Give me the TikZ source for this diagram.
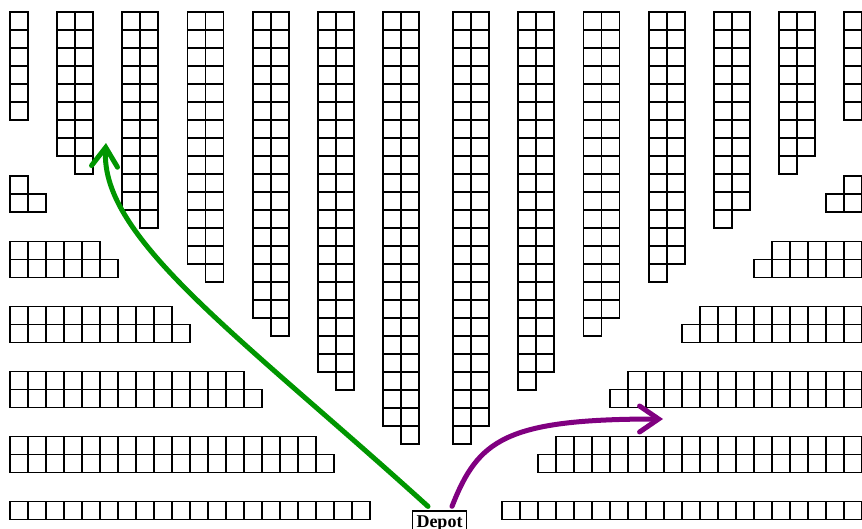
\documentclass[tikz,border=0pt]{standalone}
\usepackage{fontspec}
\setmainfont{Liberation Serif}
\usetikzlibrary{arrows.meta}
\definecolor{pathgreen}{RGB}{0,150,0}
\definecolor{pathpurple}{RGB}{128,0,128}
\begin{document}
\begin{tikzpicture}[x=1pt,y=-1pt,
  cell/.style={draw=black,line width=1.8pt},
  depotbox/.style={draw=black,line width=1.6pt,fill=white,inner xsep=4pt,inner ysep=4pt,
    font=\fontsize{18}{20}\selectfont\bfseries},
  route/.style={line width=5pt,line cap=round,line join=round,
    -{Straight Barb[length=19pt,width=26pt,line cap=round]}}]
\useasboundingbox (0,0) rectangle (862,528);
% vertical aisles (pairs of columns): x / left count / right count
\foreach \x/\a/\b in {57/8/9,122.2/11/12,187.4/14/15,252.6/17/18,317.8/20/21,383/23/24,
                      453/24/23,518.2/21/20,583.4/18/17,648.6/15/14,713.8/12/11,779/9/8}{
  \foreach \i in {1,...,\a} \draw[cell] (\x,{12+18*(\i-1)}) rectangle ++(18,18);
  \foreach \i in {1,...,\b} \draw[cell] ({\x+18},{12+18*(\i-1)}) rectangle ++(18,18);
}
% single outer columns
\foreach \x in {10,844}{
  \foreach \i in {1,...,6} \draw[cell] (\x,{12+18*(\i-1)}) rectangle ++(18,18);
}
% small L pieces
\draw[cell] (10,176) rectangle ++(18,18);
\draw[cell] (10,194) rectangle ++(18,18);
\draw[cell] (28,194) rectangle ++(18,18);
\draw[cell] (844,176) rectangle ++(18,18);
\draw[cell] (844,194) rectangle ++(18,18);
\draw[cell] (826,194) rectangle ++(18,18);
% horizontal blocks: y / top count / bottom count
\foreach \y/\a/\b in {241.5/5/6,306.5/9/10,371.5/13/14,436.5/17/18}{
  \foreach \i in {1,...,\a} \draw[cell] ({10+18*(\i-1)},\y) rectangle ++(18,18);
  \foreach \i in {1,...,\b} \draw[cell] ({10+18*(\i-1)},{\y+18}) rectangle ++(18,18);
  \foreach \i in {1,...,\a} \draw[cell] ({862-18*\i},\y) rectangle ++(18,18);
  \foreach \i in {1,...,\b} \draw[cell] ({862-18*\i},{\y+18}) rectangle ++(18,18);
}
% bottom single rows
\foreach \i in {1,...,20}{
  \draw[cell] ({10+18*(\i-1)},501.5) rectangle ++(18,18);
  \draw[cell] ({862-18*\i},501.5) rectangle ++(18,18);
}
% depot
\node[depotbox,anchor=base] (depot) at (439.5,527) {Depot};
\coordinate (gs) at ([xshift=-11.5pt,yshift=4pt]depot.north);
\coordinate (ps) at ([xshift=12.5pt,yshift=4pt]depot.north);
\coordinate (ge) at (106,143);
\coordinate (pe) at (663,419);
\draw[route,pathgreen] (gs) .. controls (240,336) and (100,238) .. (ge);
\draw[route,pathpurple] (ps) .. controls (478,440) and (505,419) .. (pe);
\end{tikzpicture}
\end{document}
